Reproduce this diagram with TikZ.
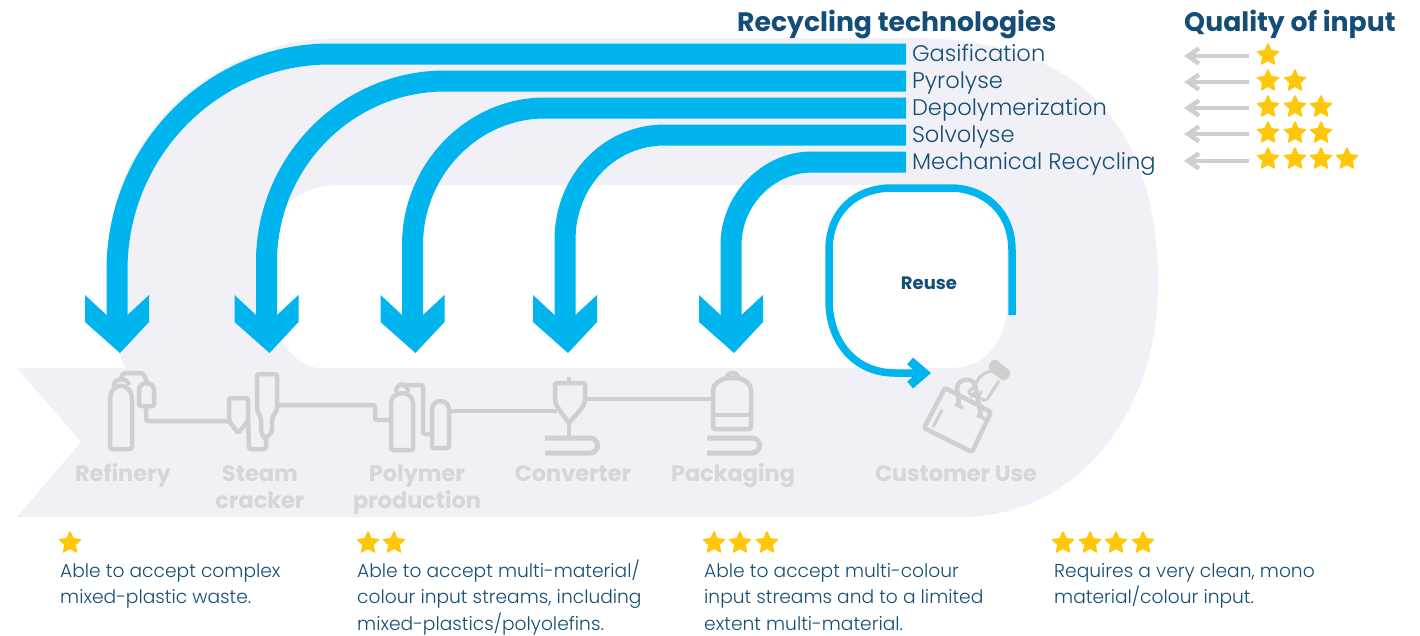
\documentclass[tikz,border=0pt]{standalone}
\usepackage{fontspec}
\setmainfont{Poppins}
\newfontfamily\lightfont{Poppins Light}
\usetikzlibrary{arrows.meta,shapes.geometric}
\definecolor{flowblue}{HTML}{00B4EE}
\definecolor{bandgrey}{HTML}{F0F0F6}
\definecolor{icongrey}{HTML}{CFCFCF}
\definecolor{labelgrey}{HTML}{D6D6D6}
\definecolor{navy}{HTML}{144E76}
\definecolor{starcol}{HTML}{FFC709}
\newcommand{\stagetop}{\rule{0pt}{21pt}}
\newcommand{\notetop}{\rule{0pt}{20pt}}
\pgfdeclarearrow{
  name=BigHead,
  setup code={\pgfarrowssettipend{0pt}\pgfarrowssetlineend{-30pt}\pgfarrowssetbackend{-58pt}},
  drawing code={
    \pgfpathmoveto{\pgfqpoint{0pt}{3pt}}
    \pgfpathlineto{\pgfqpoint{-31pt}{32pt}}
    \pgfpathlineto{\pgfqpoint{-58pt}{32pt}}
    \pgfpathlineto{\pgfqpoint{-38pt}{10.5pt}}
    \pgfpathlineto{\pgfqpoint{-38pt}{-10.5pt}}
    \pgfpathlineto{\pgfqpoint{-58pt}{-32pt}}
    \pgfpathlineto{\pgfqpoint{-31pt}{-32pt}}
    \pgfpathclose
    \pgfusepathqfill
  }
}
\begin{document}
\begin{tikzpicture}[
  x=1pt,y=-1pt,
  every node/.style={inner sep=0pt},
  flow/.style={draw=flowblue, line width=21pt, -BigHead},
  reuseflow/.style={draw=flowblue, line width=7.5pt, -{Straight Barb[length=14pt,width=24pt,line width=9pt]}},
  inarrow/.style={draw=icongrey, line width=4.5pt, -{Straight Barb[length=11pt,width=15pt,line width=4.5pt]}},
  icon/.style={draw=icongrey, line width=4.5pt, line join=round, rounded corners=2pt},
  bed/.style={draw=icongrey, line width=5pt},
  title/.style={font=\fontsize{26.7}{30}\selectfont\bfseries, text=navy, anchor=base west},
  tech/.style={font=\lightfont\fontsize{22.6}{27}\selectfont, text=navy, anchor=base west, outer xsep=6pt},
  stage/.style={font=\fontsize{22.4}{27}\selectfont\bfseries, text=labelgrey, align=center, anchor=north},
  note/.style={font=\lightfont\fontsize{18.65}{26.5}\selectfont, text=navy, align=left, anchor=north west},
  rate/.style={star, star points=5, star point ratio=2.1, minimum size=22pt, fill=starcol, draw=starcol, line width=1.5pt, line join=round}
  ]
	\useasboundingbox (0,0) rectangle (1420,635);

	% background band
	\fill[bandgrey] (17,368) -- (81,442) -- (17,517) -- (960,517)
		.. controls (1080,517) and (1158,410) .. (1158,285)
		.. controls (1158,120) and (1075,38) .. (910,38) -- (340,38)
		.. controls (220,38) and (100,130) .. (108,280)
		.. controls (110,320) and (115,345) .. (125,368) -- cycle;
	\fill[white] (320,368) -- (950,368)
		.. controls (985,368) and (1007,340) .. (1007,305) -- (1007,250)
		.. controls (1007,210) and (985,185) .. (950,185) -- (340,185)
		.. controls (300,185) and (268,210) .. (268,250) -- (268,300)
		.. controls (275,345) and (300,368) .. (320,368) -- cycle;

	% headings and technologies
	\node[title] (recycling) at (737,31) {Recycling technologies};
	\node[title] (quality) at (1184,31) {Quality of input};
	\node[tech] (gasification) at (906,61) {Gasification};
	\node[tech] (pyrolyse) at (906,88) {Pyrolyse};
	\node[tech] (depoly) at (906,115) {Depolymerization};
	\node[tech] (solvolyse) at (906,142) {Solvolyse};
	\node[tech] (mechanical) at (906,169) {Mechanical Recycling};
	\node[font=\fontsize{18}{20}\selectfont\bfseries, text=navy] (reuse) at (929,283) {Reuse};

	% stages
	\node[stage] (refinery) at (123,460) {\stagetop Refinery};
	\node[stage] (steam) at (260,460) {\stagetop Steam\\cracker};
	\node[stage] (polymer) at (417,460) {\stagetop Polymer\\production};
	\node[stage] (converter) at (573,460) {\stagetop Converter};
	\node[stage] (packaging) at (733,460) {\stagetop Packaging};
	\node[stage] (customer) at (956,460) {\stagetop Customer Use};

	\coordinate (in_refinery) at (117,353);
	\coordinate (in_steam) at (266.5,353);
	\coordinate (in_polymer) at (412.5,353);
	\coordinate (in_converter) at (565,353);
	\coordinate (in_packaging) at (731,353);

	\draw[flow] (gasification.west |- 0,54) -- (330,54) .. controls (212,54) and (117,151) .. (117,270) -- (in_refinery);
	\draw[flow] (pyrolyse.west |- 0,81) -- (445,81) .. controls (347,81) and (266.5,162) .. (266.5,262) -- (in_steam);
	\draw[flow] (depoly.west |- 0,108) -- (545,108) .. controls (472,108) and (412.5,170) .. (412.5,245) -- (in_polymer);
	\draw[flow] (solvolyse.west |- 0,135) -- (665,135) .. controls (608,135) and (565,182) .. (565,240) -- (in_converter);
	\draw[flow] (mechanical.west |- 0,162) -- (812,162) .. controls (768,162) and (731,200) .. (731,245) -- (in_packaging);

	% reuse loop
	\coordinate (reuse_out) at (1012,315);
	\coordinate (reuse_in) at (931,373);
	\draw[reuseflow] (reuse_out) -- (1012,250) .. controls (1012,212) and (985,188) .. (950,188)
		-- (892,188) .. controls (855,188) and (829,212) .. (829,250) -- (829,300)
		.. controls (829,342) and (855,373) .. (895,373) -- (reuse_in);

	% process icons
	\draw[icon] (110,449) -- (110,402) .. controls (110,381) and (132,381) .. (132,402) -- (132,449) -- cycle;
	\draw[icon] (114,387) .. controls (113,378) and (126,376) .. (129,385);
	\draw[icon] (121,379) -- (123,373) -- (143,373) -- (148,384);
	\draw[icon] (139,406) -- (139,392) .. controls (139,381) and (154,381) .. (154,392) -- (154,406) -- cycle;
	\draw[icon] (146,406) -- (146,421) -- (229,421);
	\draw[icon] (229,398) -- (248,398) -- (248,421) -- (238,433) -- (229,421) -- cycle;
	\draw[icon] (257,410) -- (257,374) -- (277,374) -- (277,410) -- (272,418) -- (272,432) -- (265,439) -- (261,432) -- (261,418) -- cycle;
	\draw[icon] (248,417) -- (249,449) -- (266,449) -- (266,439);
	\draw[icon] (278,405) -- (375,405) -- (375,420) -- (391,420);
	\draw[icon] (391,450) -- (391,405) .. controls (391,390) and (413,390) .. (413,405) -- (413,450) -- cycle;
	\draw[icon] (396,392) .. controls (396,382) and (408,382) .. (408,392);
	\draw[icon] (402,385) -- (405,385) -- (423,385) -- (423,434) -- (433,434);
	\draw[icon] (432,448) -- (432,412) .. controls (432,398) and (449,398) .. (449,412) -- (449,448) -- cycle;
	\draw[icon] (449,411) -- (557,411);
	\draw[icon] (555,383) -- (585,383) -- (585,402) -- (582,408) -- (569,423) -- (558,408) -- (555,402) -- cycle;
	\draw[icon] (569,377) -- (569,383);
	\draw[icon] (569,423) -- (569,438);
	\draw[bed] (545,438) -- (590,438) arc[start angle=-90, end angle=90, radius=7.5] -- (545,453);
	\draw[icon] (585,399) -- (713,399);
	\draw[icon] (713,429) -- (713,392) .. controls (713,384) and (720,380) .. (727,378) -- (738,378) .. controls (745,380) and (751,384) .. (751,392) -- (751,429) -- cycle;
	\draw[icon] (713,415) -- (751,415);
	\draw[icon] (727,378) .. controls (727,371) and (738,371) .. (738,378);
	\draw[bed] (707,438) -- (752,438) arc[start angle=-90, end angle=90, radius=7.5] -- (707,453);
	\draw[icon] (945,388) -- (991,412) -- (972,452) -- (924,428) -- cycle;
	\draw[icon, line width=3pt] (942,410) -- (933,427);
	\draw[icon] (959,405) -- (957,389) .. controls (958,379) and (970,378) .. (975,384) -- (981,416);
	\draw[icon, line width=3.5pt] (955,404) -- (963,408);
	\draw[icon, line width=3.5pt] (977,415) -- (985,419);
	\draw[icon, line width=3pt] (992,371) .. controls (985,372) and (979,376) .. (976,384) -- (968,393) -- (986,401) -- (999,381);
	\draw[icon, line width=2pt] (976,389) -- (971,398);
	\draw[icon, line width=2pt] (982,391) -- (977,400);
	\draw[icon, fill=icongrey] (994,361) -- (1009,373) -- (1004,379) -- (990,368) -- cycle;

	% quality arrows and stars
	\foreach \n/\y in {1/56,2/82,3/108,4/134,5/161} {
		\coordinate (q\n_start) at (1249,\y);
		\coordinate (q\n_end) at (1184,\y);
		\draw[inarrow] (q\n_start) -- (q\n_end);
	}
	\foreach \n/\x/\y in {a/1268/55,b/1268/81,c/1295/81,d/1268/107,e/1295/107,f/1321/107,
		g/1268/133,h/1295/133,i/1321/133,j/1268/159,k/1295/159,l/1321/159,m/1347/159}
		\node[rate] (star_\n) at (\x,\y) {};
	\foreach \n/\x in {a/70,b/368,c/394,d/714,e/740,f/767,g/1063,h/1090,i/1116,j/1143}
		\node[rate] (low_\n) at (\x,543) {};

	% notes
	\node[note] (note1) at (60,557) {\notetop Able to accept complex\\mixed-plastic waste.};
	\node[note] (note2) at (357,557) {\notetop Able to accept multi-material/\\colour input streams, including\\mixed-plastics/polyolefins.};
	\node[note] (note3) at (704,557) {\notetop Able to accept multi-colour\\input streams and to a limited\\extent multi-material.};
	\node[note] (note4) at (1054,557) {\notetop Requires a very clean, mono\\material/colour input.};
\end{tikzpicture}
\end{document}
